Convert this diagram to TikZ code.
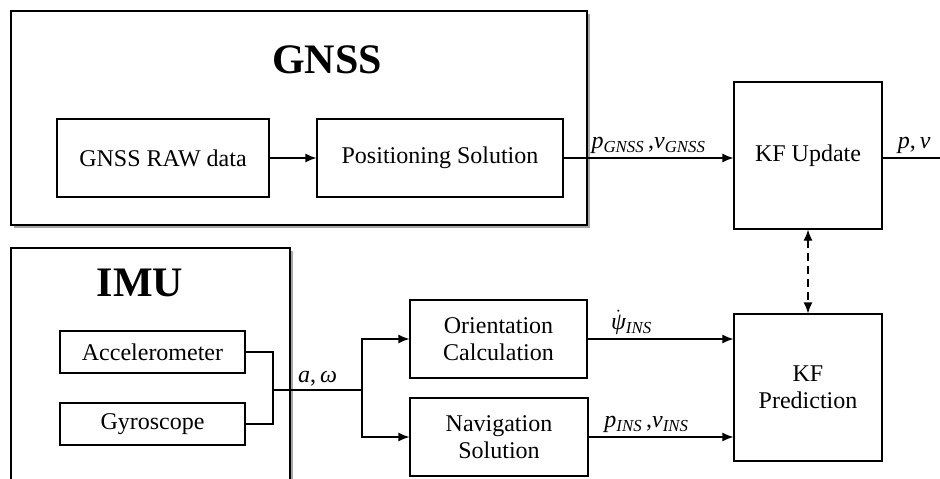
\documentclass[tikz,border=0pt]{standalone}
\usepackage{fontspec}
\setmainfont{Liberation Serif}
\usepackage{tikz}
\usetikzlibrary{arrows.meta, shadows}
\newcommand{\isub}[2]{\textit{#1}\textsubscript{\textit{#2}}}

\begin{document}
\begin{tikzpicture}[
    x=1pt, y=-1pt,
    line width=1.2pt,
    every node/.style={font=\fontsize{24}{27}\selectfont},
    block/.style={draw, rectangle, align=center, inner sep=0pt},
    outer/.style={draw, rectangle, inner sep=0pt, fill=white,
        drop shadow={shadow xshift=3pt, shadow yshift=-3pt, fill=gray!70, opacity=1}},
    title/.style={font=\fontsize{42}{48}\selectfont\bfseries},
    flow/.style={-{Latex[length=11pt,width=9pt]}},
    link/.style={{Latex[length=11pt,width=9pt]}-{Latex[length=11pt,width=9pt]}, dash pattern=on 8pt off 5pt}
]
\useasboundingbox (0,0) rectangle (940,479);
\clip (0,0) rectangle (940,479);

\node[outer, minimum width=576pt, minimum height=214pt] (gnss) at (299,118) {};
\node[title] (gnsstitle) at (327,60) {GNSS};
\node[block, minimum width=212pt, minimum height=78pt] (raw) at (163,158) {GNSS RAW data};
\node[block, minimum width=246pt, minimum height=78pt] (pos) at (440,158) {Positioning Solution};

\node[outer, minimum width=279pt, minimum height=260pt] (imu) at (150.5,378) {};
\node[title] (imutitle) at (140,283) {IMU};
\node[block, minimum width=185pt, minimum height=42pt] (acc) at (152.5,352) {Accelerometer};
\node[block, minimum width=185pt, minimum height=42pt] (gyro) at (152.5,424) {Gyroscope};

\node[block, minimum width=177pt, minimum height=78pt] (ori) at (498.5,339) {Orientation\\Calculation};
\node[block, minimum width=178pt, minimum height=78pt] (nav) at (499,437) {Navigation\\Solution};

\node[block, minimum width=148pt, minimum height=147pt] (kfu) at (808,155.5) {KF Update};
\node[block, minimum width=148pt, minimum height=147pt] (kfp) at (808,387.5) {KF\\Prediction};

\coordinate (join) at (273,390);
\coordinate (split) at (362,390);
\coordinate (out) at (940,158);

\draw[flow] (raw) -- (pos);
\draw[flow] (pos.east) -- node[above] {\isub{p}{GNSS}\,,\isub{v}{GNSS}} (pos.east -| kfu.west);
\draw (pos.east -| kfu.east) -- node[above, pos=0.55] {\textit{p},\,\textit{v}} (out);

\draw (acc.east) -| (join);
\draw (gyro.east) -| (join);
\draw (join) -- node[above] {\textit{a},\,\textit{ω}} (split);
\draw[flow] (split) |- (ori.west);
\draw[flow] (split) |- (nav.west);

\draw[flow] (ori.east) -- node[above, pos=0.3] {$\dot{\mbox{\itshape ψ}}$\textsubscript{\textit{INS}}} (ori.east -| kfp.west);
\draw[flow] (nav.east) -- node[above, pos=0.4] {\isub{p}{INS}\,,\isub{v}{INS}} (nav.east -| kfp.west);

\draw[link] (kfu.south) -- (kfp.north);

\end{tikzpicture}
\end{document}
